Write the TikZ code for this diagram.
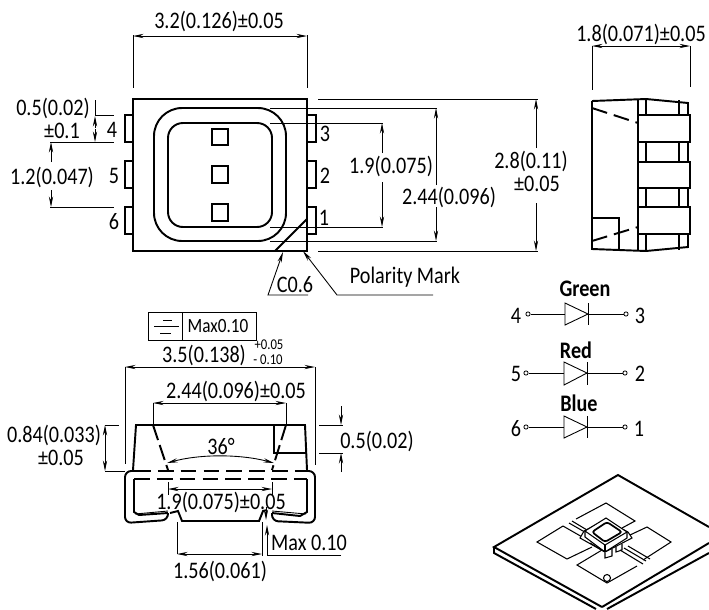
\documentclass[tikz,border=0pt]{standalone}
\usepackage{fontspec}
\setmainfont[FakeStretch=0.85]{Carlito}
\usetikzlibrary{arrows.meta}
\tikzset{
  outline/.style={line width=1.1pt, line join=miter},
  thin line/.style={line width=0.5pt},
  dimline/.style={line width=0.5pt, {Stealth[length=6pt,width=2.4pt]}-{Stealth[length=6pt,width=2.4pt]}},
  dimto/.style={line width=0.5pt, -{Stealth[length=6pt,width=2.4pt]}},
  lbl/.style={inner sep=0pt, font=\fontsize{13.5}{15}\selectfont},
  tol/.style={inner sep=0pt, font=\fontsize{8.5}{9}\selectfont},
  title/.style={inner sep=0pt, font=\fontsize{13.5}{15}\selectfont\bfseries},
  term/.style={circle, draw, line width=0.45pt, inner sep=0pt, minimum size=2.4pt},
  dash long/.style={line width=1.1pt, dash pattern=on 9pt off 4pt},
}
\begin{document}
\begin{tikzpicture}[x=0.02cm,y=-0.02cm]
\useasboundingbox (0,0) rectangle (709,609);

% top view
\draw[outline] (133,99) rectangle (307,251);
\draw[outline,rounded corners=16pt] (154,108) rectangle (286,241);
\draw[outline,rounded corners=8.5pt] (168,123) rectangle (272,227);
\draw[outline] (212,129) rectangle (228,145);
\draw[outline] (212,166) rectangle (228,183);
\draw[outline] (212,204) rectangle (228,221);
\foreach \y in {115,161,207} {
  \draw[outline] (133,\y) -- (125,\y) -- (125,\y+27) -- (133,\y+27);
  \draw[outline] (307,\y) -- (316,\y) -- (316,\y+27) -- (307,\y+27);
}
\draw[outline] (307,219) -- (275,251);
\node[lbl] at (112,130) (pinfour){4};
\node[lbl] at (114,176) (pinfive){5};
\node[lbl] at (114,222) (pinsix){6};
\node[lbl] at (325,134) (pinthree){3};
\node[lbl] at (325,176) (pintwo){2};
\node[lbl] at (324,218) (pinone){1};

\draw[thin line] (133,35) -- (133,88);
\draw[thin line] (307,35) -- (307,88);
\draw[dimline] (133,36) -- (307,36);
\node[lbl] at (219,21) (width){3.2(0.126)±0.05};

\draw[thin line] (95,115) -- (114,115);
\draw[thin line] (50,142) -- (114,142);
\draw[thin line] (50,207) -- (114,207);
\draw[thin line] (95,100) -- (95,115);
\draw[dimto] (95,128) -- (95,116);
\draw[dimto] (95,129) -- (95,142);
\draw[dimto] (51,162) -- (51,142);
\draw[dimto] (51,190) -- (51,207);
\node[lbl] at (53,108) (pinw){0.5(0.02)};
\node[lbl] at (62,131) (pinwtol){±0.1};
\node[lbl] at (52,177) (pitch){1.2(0.047)};

\draw[thin line] (318,99) -- (538,99);
\draw[thin line] (318,251) -- (538,251);
\draw[thin line] (270,108) -- (437,108);
\draw[thin line] (270,241) -- (437,241);
\draw[thin line] (270,123) -- (383,123);
\draw[thin line] (270,227) -- (383,227);
\draw[dimto] (382,153) -- (382,123);
\draw[dimto] (382,182) -- (382,227);
\draw[dimto] (436,185) -- (436,108);
\draw[dimto] (436,207) -- (436,241);
\draw[dimto] (536,148) -- (536,99);
\draw[dimto] (536,203) -- (536,251);
\node[lbl] at (391,166) (winsmall){1.9(0.075)};
\node[lbl] at (449,197) (winbig){2.44(0.096)};
\node[lbl] at (531,161) (height){2.8(0.11)};
\node[lbl] at (537,184) (heighttol){±0.05};

\draw[thin line,-{Stealth[length=6pt,width=2.4pt]}] (308,295) -- (268,295) -- (283,252);
\draw[thin line,-{Stealth[length=6pt,width=2.4pt]}] (433,295) -- (337,295) -- (303,251);
\node[lbl] at (295,285) (chamfer){C0.6};
\node[lbl] at (405,277) (polarity){Polarity Mark};

% side view
\draw[thin line] (592,46) -- (592,90);
\draw[thin line] (690,46) -- (690,87);
\draw[dimline] (592,46) -- (690,46);
\node[lbl] at (641,34) (depth){1.8(0.071)±0.05};
\draw[outline] (592,101) -- (646,99) -- (688,103) -- (688,115);
\draw[outline] (592,101) -- (592,249) -- (646,251) -- (688,247) -- (688,234);
\draw[outline] (638,99) -- (638,251);
\draw[outline] (638,115) rectangle (690,142);
\draw[outline] (638,162) rectangle (690,188);
\draw[outline] (638,207) rectangle (690,234);
\foreach \x in {646,679} {
  \draw[outline] (\x,100) -- (\x,115);
  \draw[outline] (\x,142) -- (\x,162);
  \draw[outline] (\x,188) -- (\x,207);
  \draw[outline] (\x,234) -- (\x,250);
}
\draw[outline] (688,142) -- (688,162);
\draw[outline] (688,188) -- (688,207);
\draw[outline] (592,218) -- (619,218) -- (619,250);
\draw[dash long] (592,108) -- (638,123);
\draw[dash long] (592,241) -- (638,227);

% diodes
\node[title] at (585,289) (green){Green};
\node[title] at (576,350) (red){Red};
\node[title] at (579,403) (blue){Blue};
\node[term] at (528,314) (afour){};
\node[term] at (626,314) (kthree){};
\node[term] at (526,373) (afive){};
\node[term] at (625,373) (ktwo){};
\node[term] at (526,427) (asix){};
\node[term] at (625,427) (kone){};
\draw[thin line] (afour) -- (kthree);
\draw[thin line] (afive) -- (ktwo);
\draw[thin line] (asix) -- (kone);
\draw[thin line,fill=white] (565,303) -- (588,314) -- (565,325) -- cycle;
\draw[thin line] (588,303) -- (588,325);
\draw[thin line,fill=white] (564,362) -- (587,373) -- (564,385) -- cycle;
\draw[thin line] (587,362) -- (587,385);
\draw[thin line,fill=white] (564,416) -- (587,427) -- (564,438) -- cycle;
\draw[thin line] (587,416) -- (587,438);
\node[lbl] at (516,316) (numfour){4};
\node[lbl] at (640,316) (numthree){3};
\node[lbl] at (516,374) (numfive){5};
\node[lbl] at (640,374) (numtwo){2};
\node[lbl] at (516,429) (numsix){6};
\node[lbl] at (639,429) (numone){1};

% front view
\draw[thin line] (148,312) rectangle (256,340);
\draw[thin line] (182,312) -- (182,340);
\draw[thin line] (163,320) -- (172,320);
\draw[thin line] (154,326) -- (179,326);
\draw[thin line] (160,333) -- (171,333);
\node[lbl,font=\fontsize{11.5}{13}\selectfont] at (218,326) (flat){Max0.10};
\node[lbl] at (204,355) (overall){3.5(0.138)};
\node[tol] at (269,345) (tolup){+0.05};
\node[tol] at (268,360) (toldown){- 0.10};
\draw[thin line] (125,367) -- (125,464);
\draw[thin line] (315,367) -- (315,465);
\draw[dimline] (125,367) -- (315,367);
\node[lbl] at (236,391) (lens){2.44(0.096)±0.05};
\draw[thin line] (153,403) -- (153,425);
\draw[thin line] (286,403) -- (286,425);
\draw[dimline] (153,403) -- (286,403);

\draw[outline] (133,470) -- (136,425) -- (305,425) -- (307,470);
\draw[outline] (274,425) -- (274,453) -- (307,453);
\draw[dash long,dash pattern=on 9pt off 3pt] (153,425) -- (168,470);
\draw[dash long,dash pattern=on 9pt off 3pt] (286,425) -- (272,470);
\draw[dash long] (135,471) -- (307,471);
\draw[dash long] (134,479) -- (307,479);
\draw[outline,rounded corners=3.5pt] (136,471) -- (125,471) -- (125,523) -- (168,520) -- (168,513);
\draw[outline] (134,479) -- (134,512) -- (139,515) -- (168,513);
\draw[thin line] (135,514) -- (168,511);
\draw[outline] (170,513) -- (178,511) -- (182,521) -- (259,521) -- (263,511) -- (267,510);
\draw[outline,rounded corners=3.5pt] (305,471) -- (315,471) -- (315,523) -- (272,521) -- (272,513);
\draw[outline] (307,479) -- (307,512) -- (300,516) -- (272,513);
\draw[thin line] (306,514) -- (272,511);

\draw[thin line] (105,425) -- (119,425);
\draw[thin line] (105,471) -- (125,471);
\draw[dimline] (105,425) -- (105,471);
\node[lbl] at (54,435) (thick){0.84(0.033)};
\node[lbl] at (61,458) (thicktol){±0.05};
\draw[thin line] (319,425) -- (343,425);
\draw[thin line] (319,453) -- (343,453);
\draw[dimto] (341,406) -- (341,425);
\draw[dimto] (341,472) -- (341,453);
\node[lbl] at (377,441) (lenstop){0.5(0.02)};
\draw[dimline] (167,463) .. controls (200,454) and (240,454) .. (274,463);
\node[lbl] at (221,446) (angle){36°};
\draw[thin line] (168,482) -- (168,495);
\draw[thin line] (272,482) -- (272,495);
\draw[dimline] (168,489) -- (272,489);
\node[lbl] at (221,502) (lenswin){1.9(0.075)±0.05};
\draw[thin line] (177,522) -- (177,554);
\draw[thin line] (262,522) -- (262,556);
\draw[dimline] (177,554) -- (262,554);
\node[lbl] at (220,571) (foot){1.56(0.061)};
\draw[thin line,-{Stealth[length=6pt,width=2.4pt]}] (341,555) -- (267,555) -- (267,525);
\draw[dimto] (266,507) -- (266,520);
\node[lbl] at (309,543) (gap){Max 0.10};

% mounted view
\draw[outline] (602,607) -- (494,547) -- (618,475) -- (709,527);
\draw[outline] (494,547) -- (494,553) -- (596,609);
\draw[outline] (602,607) -- (709,543);
\draw[outline] (607,609) -- (709,553);
\draw[line width=0.6pt] (576,519) -- (606,503) -- (635,521) -- (622,528);
\draw[line width=0.6pt] (592,547) -- (567,559) -- (537,542) -- (563,526);
\draw[line width=0.6pt] (630,535) -- (647,527) -- (671,542) -- (643,560);
\draw[line width=0.6pt] (602,550) -- (577,565) -- (607,583) -- (637,566);
\draw[line width=0.6pt] (563,526) -- (584,538);
\draw[line width=0.6pt] (569,523) -- (590,535);
\draw[line width=0.6pt] (572,521) -- (592,533);
\draw[line width=0.6pt] (620,550) -- (643,564);
\draw[line width=0.6pt] (624,548) -- (646,561);
\draw[line width=0.6pt] (628,546) -- (650,559);
\draw[line width=0.6pt] (607,578) circle (3.5);
\draw[line width=0.6pt,fill=white] (580,538) -- (605,552) -- (632,538) -- (628,532) -- (605,520) -- (584,531) -- cycle;
\draw[line width=0.6pt] (605,553) -- (605,558) -- (612,556) -- (612,549);
\draw[line width=0.6pt] (616,547) -- (616,552) -- (622,550) -- (622,544);
\draw[line width=0.6pt] (590,543) -- (605,552);
\draw[line width=0.6pt,fill=white] (585,531) -- (606,518) -- (627,532) -- (605,545) -- cycle;
\draw[line width=0.6pt] (585,531) -- (585,537) -- (605,552) -- (627,538) -- (627,532);
\draw[line width=0.6pt] (605,545) -- (605,552);
\draw[line width=1pt,rounded corners=1.5pt] (592,532) -- (607,522) -- (622,532) -- (605,542) -- cycle;
\end{tikzpicture}
\end{document}
